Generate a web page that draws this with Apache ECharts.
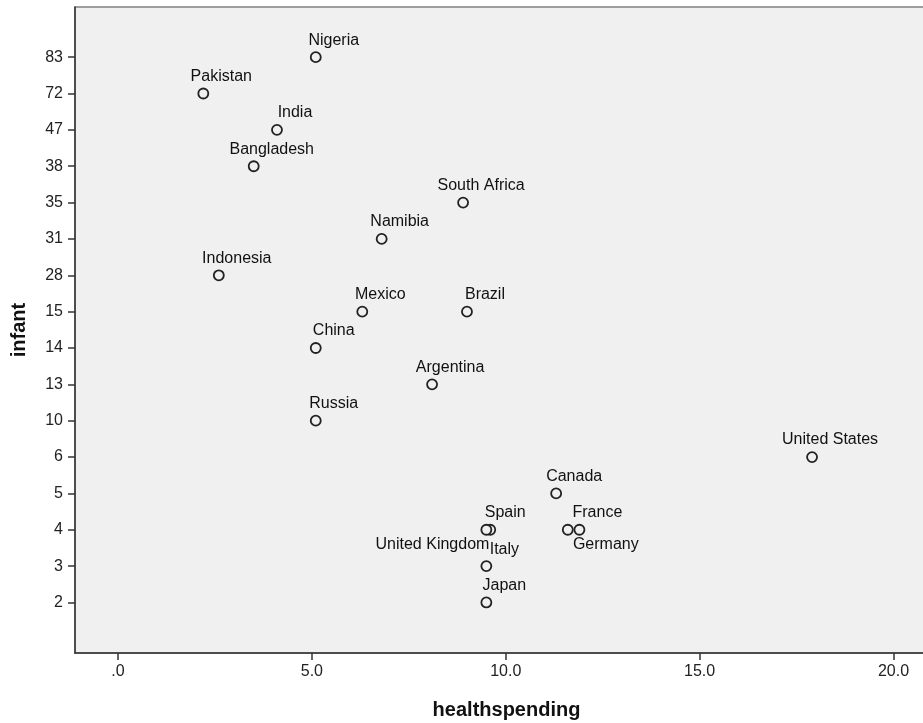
<!DOCTYPE html>
<html>
<head>
<meta charset="utf-8">
<script src="https://cdn.jsdelivr.net/npm/echarts@6/dist/echarts.min.js"></script>
<style>
html,body{margin:0;padding:0;background:#fff;}
#chart{width:923px;height:723px;}
</style>
</head>
<body>
<div id="chart"></div>
<script>
// y-axis categories (infant), bottom to top
const categories = ['2','3','4','5','6','10','13','14','15','28','31','35','38','47','72','83'];
const countries = ['Nigeria','Pakistan','India','Bangladesh','South Africa','Namibia','Indonesia','Mexico','Brazil','China','Argentina','Russia','United States','Canada','Spain','United Kingdom','France','Germany','Italy','Japan'];
const healthspending = [5.1, 2.2, 4.1, 3.5, 8.9, 6.8, 2.6, 6.3, 9.0, 5.1, 8.1, 5.1, 17.9, 11.3, 9.6, 9.5, 11.9, 11.6, 9.5, 9.5];
const infant = [83, 72, 47, 38, 35, 31, 28, 15, 15, 14, 13, 10, 6, 5, 4, 4, 4, 4, 3, 2];
const xTicks = [0, 5, 10, 15, 20];

const FONT = '"Liberation Sans", Arial, sans-serif';
// label placement overrides (style only)
const labelPlacement = {
  'United Kingdom': {align: 'right', offset: [3, 15]},
  'Germany': {offset: [38, 15]},
  'Spain': {offset: [15, -17]}
};

const yIdx = categories.map((c, i) => i);
const data = countries.map((c, i) => {
  const d = {name: c, value: [healthspending[i], categories.indexOf(String(infant[i]))]};
  if (labelPlacement[c]) d.label = labelPlacement[c];
  return d;
});

const chart = echarts.init(document.getElementById('chart'));
chart.setOption({
  animation: false,
  backgroundColor: '#ffffff',
  grid: {
    left: 75, top: 7, right: -5, bottom: 70,
    show: true, backgroundColor: '#f0f0f0', borderColor: '#808080', borderWidth: 1.5,
    containLabel: false, outerBoundsMode: 'none'
  },
  xAxis: {
    type: 'value', min: -1.109, max: 20.89,
    name: 'healthspending', nameLocation: 'middle', nameGap: 47,
    nameTextStyle: {fontFamily: FONT, fontSize: 20, fontWeight: 'bold', color: '#111', padding: [0, 0, 0, 10]},
    splitLine: {show: false},
    axisLine: {onZero: false, lineStyle: {color: '#333', width: 1.5}},
    axisTick: {length: 7, customValues: xTicks, lineStyle: {color: '#333', width: 1.5}},
    axisLabel: {
      customValues: xTicks, margin: 11, fontFamily: FONT, fontSize: 16, color: '#222',
      formatter: v => v === 0 ? '.0' : v.toFixed(1)
    }
  },
  yAxis: {
    type: 'value', min: -1.39, max: 16.38,
    name: 'infant', nameLocation: 'middle', nameGap: 46, nameRotate: 90,
    nameTextStyle: {fontFamily: FONT, fontSize: 20, fontWeight: 'bold', color: '#111'},
    splitLine: {show: false},
    axisLine: {onZero: false, lineStyle: {color: '#333', width: 1.5}},
    axisTick: {length: 7, customValues: yIdx, lineStyle: {color: '#333', width: 1.5}},
    axisLabel: {
      customValues: yIdx, margin: 12, fontFamily: FONT, fontSize: 16, color: '#222',
      formatter: v => categories[Math.round(v)]
    }
  },
  series: [{
    type: 'scatter',
    symbol: 'circle',
    symbolSize: 10,
    itemStyle: {color: '#f0f0f0', borderColor: '#222', borderWidth: 1.8, opacity: 1},
    label: {
      show: true, formatter: '{b}', position: 'inside', offset: [18, -17],
      fontFamily: FONT, fontSize: 16, color: '#111', textBorderWidth: 0, opacity: 1
    },
    emphasis: {disabled: true},
    data: data
  }]
});
</script>
</body>
</html>
